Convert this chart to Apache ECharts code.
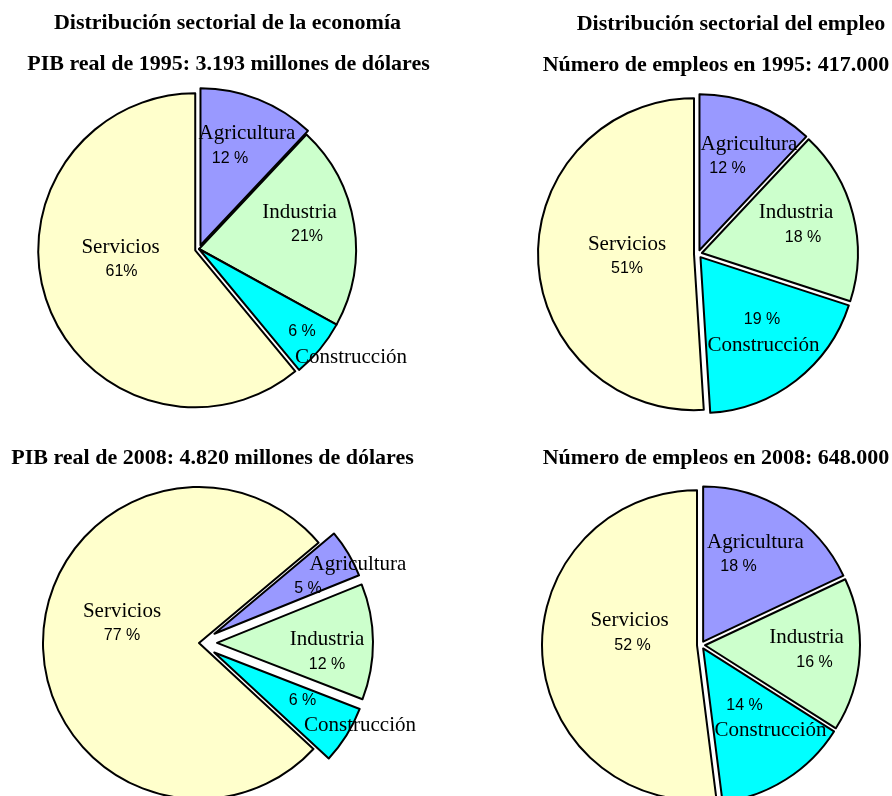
<!DOCTYPE html>
<html><head><meta charset="utf-8">
<script src="https://cdn.jsdelivr.net/npm/echarts@6/dist/echarts.min.js"></script>
<style>html,body{margin:0;padding:0;background:#fff}#c{width:892px;height:796px}</style>
</head><body><div id="c"></div>
<script>
// ---- data ----
const categories = ['Agricultura', 'Industria', 'Construcción', 'Servicios'];
const pib1995 = [12, 21, 6, 61];
const empleo1995 = [12, 18, 19, 51];
const pib2008 = [5, 12, 6, 77];
const empleo2008 = [18, 16, 14, 52];
const pctText1995pib = ['12 %', '21%', '6 %', '61%'];
const pctText1995emp = ['12 %', '18 %', '19 %', '51%'];
const pctText2008pib = ['5 %', '12 %', '6 %', '77 %'];
const pctText2008emp = ['18 %', '16 %', '14 %', '52 %'];
const headTitles = ['Distribución sectorial de la economía', 'Distribución sectorial del empleo'];
const subTitles = ['PIB real de 1995: 3.193 millones de dólares', 'Número de empleos en 1995: 417.000',
                   'PIB real de 2008: 4.820 millones de dólares', 'Número de empleos en 2008: 648.000'];

// ---- styling / layout ----
const sliceColors = ['#9999FF', '#CCFFCC', '#00FFFF', '#FFFFCC'];
const pies = [
  { vals: pib1995, pct: pctText1995pib, center: [199, 249], r: 157, start: 90, offset: 4,
    explode: [true, false, false, true],
    lab: [[48, -103.5, -17], [100.5, -25, 7.5], [152, 96, -49], [-78.5, 10, 1]] },
  { vals: empleo1995, pct: pctText1995emp, center: [698, 254], r: 156, start: 90, offset: 4,
    explode: [true, true, true, true],
    lab: [[51, -98, -21.5], [98, -29.5, 7], [65.5, 79, -1.5], [-71, 2, 0]] },
  { vals: pib2008, pct: pctText2008pib, center: [199, 643], r: 156, start: 40, offset: 18,
    explode: [true, true, true, false],
    lab: [[159, -67, -50], [128, 8.5, 0], [161, 70.5, -57.5], [-77, -20, 0]] },
  { vals: empleo2008, pct: pctText2008emp, center: [701, 645], r: 155, start: 90, offset: 4,
    explode: [true, true, true, true],
    lab: [[54.5, -91, -17], [105.5, 4.5, 8], [69.5, 73.5, -26], [-71.5, -12.5, 3]] }
];
const titlePos = [[227.5, 23], [731, 24]];
const subPos = [[228.5, 64], [716, 65], [212.5, 458], [716, 458]];

const titleStyle = { fontFamily: 'Liberation Serif', fontWeight: 'bold', fontSize: 22, color: '#000', lineHeight: 24 };
const titles = [];
headTitles.forEach((t, i) => titles.push({ text: t, left: titlePos[i][0], top: titlePos[i][1] - 12, textAlign: 'center', padding: 0, textStyle: titleStyle }));
subTitles.forEach((t, i) => titles.push({ text: t, left: subPos[i][0], top: subPos[i][1] - 12, textAlign: 'center', padding: 0, textStyle: titleStyle }));

function padFor(s) { return s >= 0 ? [0, 0, 0, 2 * s] : [0, -2 * s, 0, 0]; }

const series = [];
pies.forEach((p) => {
  // slices
  series.push({
    type: 'pie',
    center: p.center,
    radius: p.r,
    startAngle: p.start,
    clockwise: true,
    selectedMode: 'multiple',
    selectedOffset: p.offset,
    animation: false,
    emphasis: { disabled: true },
    itemStyle: { borderColor: '#000', borderWidth: 2 },
    select: { itemStyle: { borderColor: '#000', borderWidth: 2 } },
    label: { show: false },
    labelLine: { show: false },
    data: categories.map((n, i) => ({
      name: n, value: p.vals[i], selected: p.explode[i],
      itemStyle: { color: sliceColors[i] },
      select: { itemStyle: { color: sliceColors[i] } }
    }))
  });
  // labels (same slices, unselected, invisible fill, carrying the text)
  const rich = { n: { fontFamily: 'Liberation Serif', fontSize: 21, lineHeight: 26, color: '#000' } };
  p.lab.forEach((l, i) => {
    rich['p' + i] = { fontFamily: 'Liberation Sans', fontSize: 16, lineHeight: 24, color: '#000', letterSpacing: -1, padding: padFor(l[2]) };
  });
  series.push({
    type: 'pie',
    center: p.center,
    radius: p.r,
    startAngle: p.start,
    clockwise: true,
    silent: true,
    z: 5,
    avoidLabelOverlap: false,
    animation: false,
    emphasis: { disabled: true },
    itemStyle: { color: 'rgba(0,0,0,0)', borderWidth: 0 },
    labelLine: { show: false },
    label: {
      show: true,
      position: 'inside',
      rich: rich,
      formatter: (params) => {
        const i = params.dataIndex;
        const nm = '{n|' + categories[i] + '}';
        const pc = '{p' + i + '|' + p.pct[i] + '}';
        return i === 2 ? pc + '\n' + nm : nm + '\n' + pc;
      }
    },
    labelLayout: (params) => {
      const l = p.lab[params.dataIndex];
      return { x: p.center[0] + l[0], y: p.center[1] + l[1], align: 'center', verticalAlign: 'middle', hideOverlap: false };
    },
    data: categories.map((n, i) => ({ name: n, value: p.vals[i] }))
  });
});

const chart = echarts.init(document.getElementById('c'), null, { renderer: 'canvas' });
chart.setOption({
  backgroundColor: '#fff',
  animation: false,
  title: titles,
  tooltip: { show: false },
  series: series
});
</script>
</body></html>
